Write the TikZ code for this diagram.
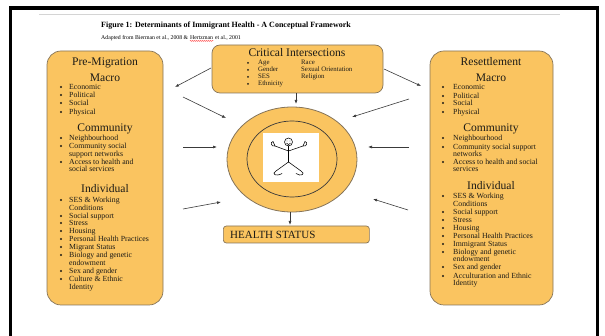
\documentclass[tikz,border=0pt]{standalone}
\usepackage{fontspec}
\setmainfont{Liberation Serif}
\usetikzlibrary{arrows.meta,shapes.geometric,decorations.pathmorphing,positioning}
\definecolor{ocker}{HTML}{FAC460}
\definecolor{ockerr}{HTML}{85745A}
\definecolor{dunkel}{HTML}{3A3A3A}
\definecolor{hell}{HTML}{D4D4D4}
\definecolor{schrift}{HTML}{1C1A16}
\tikzset{
  pfeil/.style={-{Latex[length=4pt,width=3pt]},dunkel,line width=0.6pt},
  kasten/.style={fill=ocker,draw=ockerr,line width=0.7pt,rounded corners=14pt,inner sep=0pt},
  kopf/.style={schrift,font=\fontsize{11.6}{13}\selectfont,inner sep=0pt,text height=8pt,text depth=0pt},
  punkt/.style={schrift,font=\fontsize{7.8}{9}\selectfont,anchor=west,inner sep=0pt,text height=5.5pt,text depth=1.3pt},
  klein/.style={schrift,font=\fontsize{6.8}{8}\selectfont,anchor=west,inner sep=0pt,text height=4.8pt,text depth=1.2pt},
  figur/.style={line width=0.55pt,line cap=round},
}

\begin{document}
\begin{tikzpicture}[x=1pt,y=-1pt]
  \useasboundingbox (0,0) rectangle (605,336);
  % page frame and header
  \draw[line width=3.5pt] (10.5,336) -- (10.5,8) -- (597.5,8) -- (597.5,336);
  \draw[hell,line width=1pt] (39,15) -- (560,15);
  \node[anchor=west,inner sep=0pt,font=\fontsize{8}{9}\selectfont\bfseries] (titel) at (101,26)
    {Figure 1: Determinants of Immigrant Health - A Conceptual Framework};
  \node[anchor=west,inner sep=0pt,font=\fontsize{5.8}{7}\selectfont] (quelle1) at (101,38)
    {Adapted from Bierman et al., 2008 \&};
  \node[right=1.6pt of quelle1,inner sep=0pt,font=\fontsize{5.8}{7}\selectfont] (quelle2) {Hertzman};
  \node[right=1.6pt of quelle2,inner sep=0pt,font=\fontsize{5.8}{7}\selectfont] (quelle3) {et al., 2001};
  \draw[red,line width=0.35pt,decorate,decoration={snake,amplitude=0.4pt,segment length=2pt}]
    ([yshift=-0.8pt]quelle2.south west) -- ([yshift=-0.8pt]quelle2.south east);

  % boxes
  \node[kasten,minimum width=116pt,minimum height=254pt] (pre) at (105,178) {};
  \node[kasten,minimum width=123pt,minimum height=254pt] (res) at (491.5,178) {};
  \node[kasten,rounded corners=8pt,minimum width=171pt,minimum height=48pt] (crit) at (297.5,69) {};
  \node[ellipse,fill=ocker,draw=ockerr,line width=0.8pt,minimum width=130pt,minimum height=105pt,inner sep=0pt] (aussen) at (292,159.5) {};
  \node[ellipse,fill=ocker,draw=dunkel,line width=0.7pt,minimum width=90pt,minimum height=76pt,inner sep=0pt] (innen) at (292,159) {};
  \node[fill=white,minimum width=56pt,minimum height=49pt,inner sep=0pt] (bild) at (291,157.5) {};
  \node[kasten,rounded corners=3pt,minimum width=146pt,minimum height=17pt,anchor=west] (hs) at (223,234.5) {};
  \node[anchor=west,inner sep=0pt,schrift,font=\fontsize{11}{12}\selectfont] (hstext) at ([xshift=7pt]hs.west) {HEALTH STATUS};

  % stick figure
  \draw[figur] (288.5,142) circle (4pt);
  \fill (287,141) circle (0.45pt) (290,141) circle (0.45pt);
  \draw[figur] (286.6,143.2) .. controls (287.6,145) and (289.4,145) .. (290.4,143.2);
  \draw[figur] (288.5,146) -- (288.5,162);
  \draw[figur] (288.5,151) -- (275,146) (288.5,151) -- (303,146);
  \draw[figur] (275,146) .. controls (271,147) and (270,142) .. (273,141.5) .. controls (274,143) .. (275,146);
  \draw[figur] (303,146) .. controls (307,147) and (308,142) .. (305,141.5) .. controls (304,143) .. (303,146);
  \draw[figur] (288.5,162) -- (276,171) (288.5,162) -- (301,171);
  \draw[figur] (276,171) .. controls (271,174) and (276,177) .. (282,173.5);
  \draw[figur] (301,171) .. controls (306,174) and (301,177) .. (296,173.5);

  % critical intersections
  \node[kopf] (crtitel) at (297,53) {Critical Intersections};
  \foreach \y in {63,70,77,84} \fill[schrift] (248,\y) circle (1pt);
  \foreach \y/\t [count=\i] in {63/Age,70/Gender,77/SES,84/Ethnicity}
    \node[klein] (cra\i) at (258,\y) {\t};
  \foreach \y/\t [count=\i] in {63/Race,70/Sexual Orientation,77/Religion}
    \node[klein] (crb\i) at (301,\y) {\t};

  % pre-migration
  \foreach \y/\t [count=\i] in {62/Pre-Migration,77.5/Macro,128/Community,189/Individual}
    \node[kopf] (pk\i) at (105,\y) {\t};
  \foreach \y in {87,95,103,112,138,146,162,200,216,223,231,239,247,255,271,279}
    \fill[schrift] (61,\y) circle (1.1pt);
  \foreach \y/\t [count=\i] in {87/Economic,95/Political,103/Social,112/Physical,
      138.5/Neighbourhood,146/Community social,154/support networks,162/Access to health and,169/social services,
      200/SES \& Working,208/Conditions,216/Social support,223/Stress,231/Housing,
      239/Personal Health Practices,247/Migrant Status,255/Biology and genetic,263/endowment,
      271/Sex and gender,279/Culture \& Ethnic,287/Identity}
    \node[punkt] (pp\i) at (69,\y) {\t};

  % resettlement
  \foreach \y/\t [count=\i] in {62/Resettlement,77.5/Macro,128/Community,186/Individual}
    \node[kopf] (rk\i) at (491,\y) {\t};
  \foreach \y in {87,96,103,112,138,147,162,196,212,220,228,236,244,252,267,276}
    \fill[schrift] (443,\y) circle (1.1pt);
  \foreach \y/\t [count=\i] in {87/Economic,96/Political,103/Social,112/Physical,
      138.5/Neighbourhood,147/Community social support,154/networks,162/Access to health and social,169/services,
      196.5/SES \& Working,204/Conditions,212/Social support,220/Stress,228/Housing,
      236/Personal Health Practices,244/Immigrant Status,252/Biology and genetic,259/endowment,
      267/Sex and gender,276/Acculturation and Ethnic,283/Identity}
    \node[punkt] (rp\i) at (453,\y) {\t};

  % arrows
  \coordinate (cr-w) at (211,68);   \coordinate (pre-o) at (175,87);
  \coordinate (cr-e) at (384,69);   \coordinate (res-o) at (421,86);
  \coordinate (pre-1) at (183,97);  \coordinate (k-1) at (226,118);
  \coordinate (res-1) at (409,99);  \coordinate (k-2) at (352,117);
  \coordinate (pre-2) at (183,147); \coordinate (k-3) at (217,147);
  \coordinate (res-2) at (409,147); \coordinate (k-4) at (368,147);
  \coordinate (pre-3) at (183,209); \coordinate (k-5) at (221,202);
  \coordinate (res-3) at (408,210); \coordinate (k-6) at (373,199);
  \coordinate (k-n) at (296,104);   \coordinate (hs-n) at (290,225);
  \draw[pfeil] (cr-w) -- (pre-o);
  \draw[pfeil] (cr-e) -- (res-o);
  \draw[pfeil] (pre-1) -- (k-1);
  \draw[pfeil] (res-1) -- (k-2);
  \draw[pfeil] (pre-2) -- (k-3);
  \draw[pfeil] (res-2) -- (k-4);
  \draw[pfeil] (pre-3) -- (k-5);
  \draw[pfeil] (res-3) -- (k-6);
  \draw[pfeil] ([xshift=-1.5pt]crit.south) -- (k-n);
  \draw[pfeil] ([xshift=-2pt]aussen.south) -- (hs-n);
\end{tikzpicture}
\end{document}
